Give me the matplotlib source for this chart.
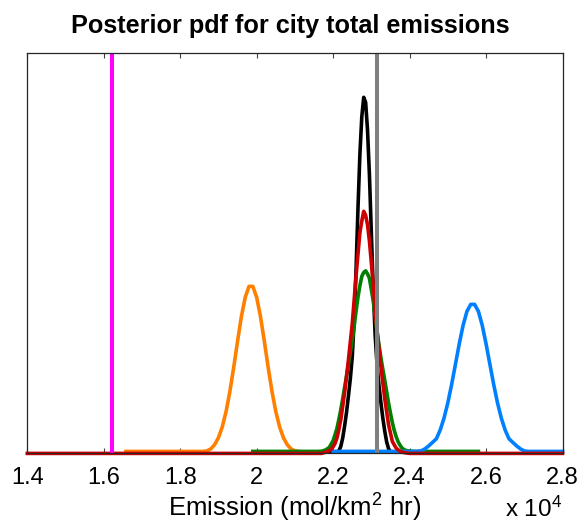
import matplotlib
matplotlib.use("Agg")
import matplotlib.pyplot as plt

plt.rcParams['font.family'] = ['Liberation Sans', 'DejaVu Sans']
plt.rcParams['mathtext.fontset'] = 'custom'
plt.rcParams['mathtext.rm'] = 'Liberation Sans'
plt.rcParams['mathtext.default'] = 'regular'

# ---------------- data (emission in units of 1e4 mol/km^2 hr; density in arbitrary units) -------------
# orange posterior
orange_x = [1.658, 1.86, 1.87, 1.88, 1.89, 1.90, 1.91, 1.92, 1.93, 1.94, 1.95, 1.96, 1.97, 1.98,
            1.99, 2.00, 2.01, 2.02, 2.03, 2.04, 2.05, 2.06, 2.07, 2.08, 2.09, 2.10, 2.11]
orange_y = [2.0, 2.0, 2.5, 4.5, 8.7, 15.7, 26.5, 41.9, 62.1, 86.2, 112.2, 136.8, 156.0, 167.0,
            167.0, 156.0, 136.8, 112.2, 86.2, 62.1, 41.9, 26.5, 15.7, 8.7, 4.5, 2.5, 2.0]

# blue posterior
blue_x = [2.20, 2.42, 2.43, 2.44, 2.45, 2.46, 2.47, 2.48, 2.49, 2.50, 2.51, 2.52, 2.53, 2.54, 2.55,
          2.56, 2.57, 2.58, 2.59, 2.60, 2.61, 2.62, 2.63, 2.64, 2.65, 2.66, 2.67, 2.68, 2.69,
          2.70, 2.71, 2.80]
blue_y = [2.0, 2.0, 2.5, 4.5, 7.5, 11.0, 14.6, 23.3, 35.2, 50.5, 68.9, 89.2, 109.7, 128.1, 142.0,
          149.0, 149.0, 142.0, 128.1, 109.7, 89.2, 68.9, 50.5, 35.2, 23.3, 14.6, 11.0, 7.5, 4.5,
          2.5, 2.0, 2.0]

# central cluster (black, red, green) on a shared emission grid
mid_x = [2.190, 2.195, 2.200, 2.205, 2.210, 2.215, 2.220, 2.225, 2.230, 2.235, 2.240, 2.245,
         2.250, 2.255, 2.260, 2.265, 2.270, 2.275, 2.280, 2.285, 2.290, 2.295, 2.300, 2.305,
         2.310, 2.315, 2.320, 2.325, 2.330, 2.335, 2.340, 2.345, 2.350, 2.355, 2.360, 2.365,
         2.370, 2.375, 2.380]
black_y = [1.5, 1.5, 1.5, 1.5, 1.5, 2.5, 7.0, 15.3, 27.3, 41.0, 57.3, 74.7,
           96.5, 132.7, 184.0, 245.0, 299.0, 336.6, 356.0, 351.0, 323.0, 278.0, 220.0, 163.0,
           118.0, 87.8, 67.6, 50.7, 35.3, 22.4, 11.6, 4.7, 1.5, 1.5, 1.5, 1.5,
           1.5, 1.5, 1.5]
red_y = [2.8, 4.2, 6.7, 9.9, 15.3, 23.7, 33.6, 47.0, 60.5, 77.0, 93.4, 111.6,
         129.6, 153.5, 177.4, 199.2, 220.6, 232.3, 242.0, 238.0, 228.5, 212.0, 190.5, 167.8,
         142.4, 122.4, 104.3, 86.7, 70.5, 54.9, 41.6, 28.8, 20.2, 11.9, 8.5, 5.2,
         3.6, 2.2, 1.2]
green_y = [6.0, 9.4, 12.8, 18.8, 25.0, 34.0, 43.6, 54.5, 66.0, 77.1, 88.1, 100.5,
           113.0, 127.0, 142.3, 156.2, 167.7, 177.0, 180.9, 182.5, 179.5, 175.0, 163.6, 152.1,
           136.9, 121.6, 108.5, 95.6, 84.2, 73.2, 61.9, 50.4, 40.2, 30.6, 22.8, 16.6,
           11.6, 8.2, 5.4]
green_left_x, green_left_y = [1.99, 2.16, 2.17, 2.18], [2.0, 2.0, 2.2, 3.4]
green_right_x, green_right_y = [2.385, 2.39, 2.40, 2.41, 2.58], [4.0, 3.0, 2.3, 2.0, 2.0]
red_left_x, red_left_y = [1.40, 2.17, 2.18], [0.0, 0.0, 1.2]
red_right_x, red_right_y = [2.39, 2.40, 2.80], [0.5, 0.0, 0.0]

prior_line = 1.622      # magenta vertical line
true_line = 2.316       # gray vertical line

xticks = [1.4, 1.6, 1.8, 2.0, 2.2, 2.4, 2.6, 2.8]
xtick_labels = ['1.4', '1.6', '1.8', '2', '2.2', '2.4', '2.6', '2.8']

# ---------------- figure -------------
W, H = 582, 524
fig = plt.figure(figsize=(W / 100, H / 100), dpi=100)
L, R, T, B = 27.3, 562.5, 53.3, 453.4
ax = fig.add_axes([L / W, 1 - B / H, (R - L) / W, (B - T) / H])

lw = 2.6
kw = dict(lw=lw, clip_on=False, solid_joinstyle='round')
ax.plot(orange_x, orange_y, color='#ff8000', **kw)
ax.plot(mid_x, black_y, color='black', **kw)
ax.plot(green_left_x + mid_x + green_right_x, green_left_y + green_y + green_right_y,
        color='#008000', **kw)
ax.plot(blue_x, blue_y, color='#0080ff', **kw)
ax.plot(red_left_x + mid_x + red_right_x, red_left_y + red_y + red_right_y,
        color='#cc0000', **kw)
ax.axvline(prior_line, color='#ff00ff', lw=2.9)
ax.axvline(true_line, color='#808080', lw=2.9)

ax.set_xlim(1.4, 2.8)
ax.set_ylim(0, 400)
ax.set_yticks([])
ax.set_xticks(xticks)
ax.set_xticklabels(xtick_labels)
ax.tick_params(axis='x', direction='in', length=3.6, width=0.8, color='#404040',
               top=True, labelsize=17, pad=10, labelcolor='black')
for s in ax.spines.values():
    s.set_linewidth(0.9)
    s.set_color('#262626')

fig.text(290 / W, 1 - 33 / H, 'Posterior pdf for city total emissions', ha='center',
         va='baseline', fontsize=18.2, fontweight='bold')
fig.text(295 / W, 1 - 517 / H, 'Emission (mol/km$^2$ hr)', ha='center', va='baseline',
         fontsize=18.5)
fig.text(562 / W, 1 - 517 / H, 'x 10$^4$', ha='right', va='baseline', fontsize=17.5)

fig.savefig('out.png', dpi=100)
